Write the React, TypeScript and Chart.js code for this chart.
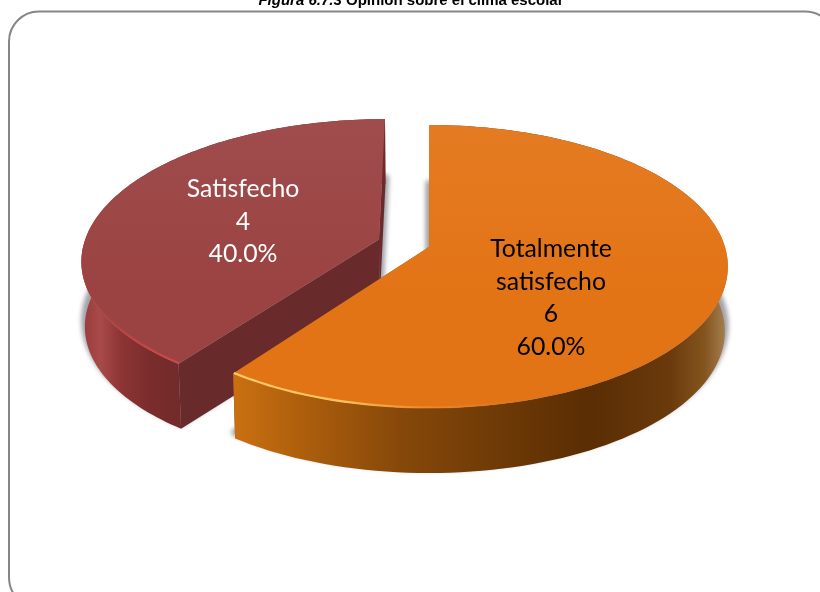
import React, { useEffect, useRef } from "react";
import { Chart, registerables } from "chart.js";

Chart.register(...registerables);

const categories = ["Totalmente satisfecho", "Satisfecho"];
const counts = [6, 4];
const faceColors = ["#E37416", "#9B4343"];
const labelColors = ["#000000", "#FFFFFF"];
const chartTitleItalic = "Figura 6.7.3";
const chartTitleBold = " Opinión sobre el clima escolar";

const TILT = 0.469;
const PERSP = -0.138;
const DEPTH = 65;
const RADIUS = 296;
const EXPLODE = 212;

type Stop = [number, string];
const wallStops: Stop[][] = [
  [[237, "#C96F12"], [300, "#AE5F0C"], [400, "#86480A"], [500, "#6E3A06"], [590, "#5A2D03"], [670, "#6A3A0C"], [705, "#85551F"], [728, "#A88458"]],
  [[82, "#9A3A3A"], [100, "#A84A4A"], [120, "#8E3535"], [150, "#7A2C2C"], [186, "#702A2A"]],
];
const cutColors = ["#8A4A0A", "#692A2B"];
const bevelStops: Stop[][] = [
  [[237, "rgba(255,205,110,0.95)"], [340, "rgba(255,205,100,0.9)"], [440, "rgba(245,150,50,0.45)"], [560, "rgba(200,110,30,0.2)"], [728, "rgba(200,120,50,0.1)"]],
  [[82, "rgba(170,60,60,0.3)"], [130, "rgba(195,70,70,0.85)"], [183, "rgba(205,75,75,0.95)"]],
];
const labelCentres = [
  { x: 551, y: 298 },
  { x: 243, y: 222 },
];

function project(el: any, angle: number, radius: number, depth: number) {
  const R = el.outerRadius;
  const mid = (el.startAngle + el.endAngle) / 2;
  const shift = (el.options.offset || 0) / 4;
  const mx = (radius * Math.cos(angle) + shift * Math.cos(mid)) / R;
  const my = (radius * Math.sin(angle) + shift * Math.sin(mid)) / R;
  const w = 1 + PERSP * my;
  const shrink = depth ? 0.99 : 1;
  return { x: el.x + (R * mx * shrink) / w, y: el.y + (R * TILT * my) / w + depth };
}

function sectorPath(ctx: CanvasRenderingContext2D, el: any, depth: number) {
  const steps = 120;
  ctx.beginPath();
  const c = project(el, 0, 0, depth);
  ctx.moveTo(c.x, c.y);
  for (let i = 0; i <= steps; i++) {
    const a = el.startAngle + ((el.endAngle - el.startAngle) * i) / steps;
    const p = project(el, a, el.outerRadius, depth);
    ctx.lineTo(p.x, p.y);
  }
  ctx.closePath();
}

function xGradient(ctx: CanvasRenderingContext2D, stops: Stop[]) {
  const x0 = stops[0][0];
  const x1 = stops[stops.length - 1][0];
  const g = ctx.createLinearGradient(x0, 0, x1, 0);
  stops.forEach(([x, c]) => g.addColorStop((x - x0) / (x1 - x0), c));
  return g;
}

const pie3d = {
  id: "pie3d",
  beforeDatasetsDraw(chart: any) {
    const ctx: CanvasRenderingContext2D = chart.ctx;
    const arcs = chart.getDatasetMeta(0).data;
    const total = counts.reduce((s, v) => s + v, 0);

    [1, 0].forEach((i) => {
      const el = arcs[i];
      const R = el.outerRadius;
      const steps = 120;
      const start = el.startAngle;
      const sweep = el.endAngle - el.startAngle;

      // soft shadow
      ctx.save();
      ctx.filter = "blur(2px)";
      sectorPath(ctx, el, DEPTH - 6);
      ctx.fillStyle = "rgba(135,135,145,0.65)";
      ctx.strokeStyle = "rgba(135,135,145,0.65)";
      ctx.lineWidth = 8;
      ctx.lineJoin = "round";
      ctx.fill();
      ctx.stroke();
      ctx.restore();

      // cut faces
      ctx.fillStyle = cutColors[i];
      [start, el.endAngle].forEach((a) => {
        const e0 = project(el, a, R, 0);
        const c0 = project(el, 0, 0, 0);
        const c1 = project(el, 0, 0, DEPTH);
        const e1 = project(el, a, R, DEPTH);
        ctx.beginPath();
        ctx.moveTo(e0.x, e0.y);
        ctx.lineTo(c0.x, c0.y);
        ctx.lineTo(c1.x, c1.y);
        ctx.lineTo(e1.x, e1.y);
        ctx.closePath();
        ctx.fill();
      });

      // outer wall
      ctx.beginPath();
      for (let s = 0; s <= steps; s++) {
        const p = project(el, start + (sweep * s) / steps, R, 0);
        s ? ctx.lineTo(p.x, p.y) : ctx.moveTo(p.x, p.y);
      }
      for (let s = steps; s >= 0; s--) {
        const p = project(el, start + (sweep * s) / steps, R, DEPTH);
        ctx.lineTo(p.x, p.y);
      }
      ctx.closePath();
      ctx.fillStyle = xGradient(ctx, wallStops[i]);
      ctx.fill();

      // top face
      sectorPath(ctx, el, 0);
      ctx.fillStyle = faceColors[i];
      ctx.fill();
      const top = project(el, -Math.PI / 2, R, 0).y;
      const sheen = ctx.createLinearGradient(0, top, 0, top + 280);
      sheen.addColorStop(0, "rgba(255,255,255,0.05)");
      sheen.addColorStop(0.6, "rgba(255,255,255,0)");
      ctx.fillStyle = sheen;
      ctx.fill();

      // bevel along the front rim
      ctx.save();
      ctx.beginPath();
      let open = false;
      for (let s = 0; s <= steps; s++) {
        const a = start + (sweep * s) / steps;
        if (Math.sin(a) < 0.03) continue;
        const p = project(el, a, R - 1, 0);
        open ? ctx.lineTo(p.x, p.y) : ctx.moveTo(p.x, p.y);
        open = true;
      }
      ctx.strokeStyle = xGradient(ctx, bevelStops[i]);
      ctx.lineWidth = 2.2;
      ctx.filter = "blur(0.6px)";
      ctx.stroke();
      ctx.restore();
    });

    // labels
    ctx.save();
    ctx.font = "24.8px Lato, 'Open Sans', sans-serif";
    ctx.textAlign = "center";
    ctx.textBaseline = "middle";
    counts.forEach((v, i) => {
      const lines = [
        ...categories[i].split(" "),
        String(v),
        ((v / total) * 100).toFixed(1) + "%",
      ];
      const lh = 32.5;
      const { x, y } = labelCentres[i];
      ctx.fillStyle = labelColors[i];
      lines.forEach((t, k) => ctx.fillText(t, x, y + (k - (lines.length - 1) / 2) * lh));
    });
    ctx.restore();
    return false;
  },
  beforeDraw(chart: any) {
    const ctx: CanvasRenderingContext2D = chart.ctx;
    ctx.save();
    ctx.fillStyle = "#FFFFFF";
    ctx.fillRect(0, 0, chart.width, chart.height);
    ctx.beginPath();
    ctx.roundRect(9, 11.5, 826, 596, 30);
    ctx.strokeStyle = "#868686";
    ctx.lineWidth = 2;
    ctx.stroke();

    ctx.fillStyle = "#000000";
    ctx.textBaseline = "alphabetic";
    ctx.textAlign = "left";
    const ital = "italic bold 15px 'Liberation Sans', Arial, sans-serif";
    const bold = "bold 15px 'Liberation Sans', Arial, sans-serif";
    ctx.font = ital;
    const w1 = ctx.measureText(chartTitleItalic).width;
    ctx.font = bold;
    const w2 = ctx.measureText(chartTitleBold).width;
    const x0 = 411 - (w1 + w2) / 2;
    ctx.font = ital;
    ctx.fillText(chartTitleItalic, x0, 5);
    ctx.font = bold;
    ctx.fillText(chartTitleBold, x0 + w1, 5);
    ctx.restore();
  },
};

export default function App() {
  const ref = useRef<HTMLCanvasElement>(null);
  useEffect(() => {
    const chart = new Chart(ref.current!, {
      type: "pie",
      data: {
        labels: categories,
        datasets: [
          {
            data: counts,
            backgroundColor: faceColors,
            borderWidth: 0,
            offset: [0, EXPLODE],
          },
        ],
      },
      options: {
        animation: false,
        responsive: false,
        radius: RADIUS,
        layout: { padding: { left: 38, right: 0, top: 0, bottom: 98 } },
        plugins: { legend: { display: false }, tooltip: { enabled: false } },
      },
      plugins: [pie3d],
    } as any);
    return () => chart.destroy();
  }, []);
  return (
    <canvas
      ref={ref}
      width={820}
      height={592}
      style={{ position: "fixed", left: 0, top: 0, width: 820, height: 592, display: "block" }}
    />
  );
}
